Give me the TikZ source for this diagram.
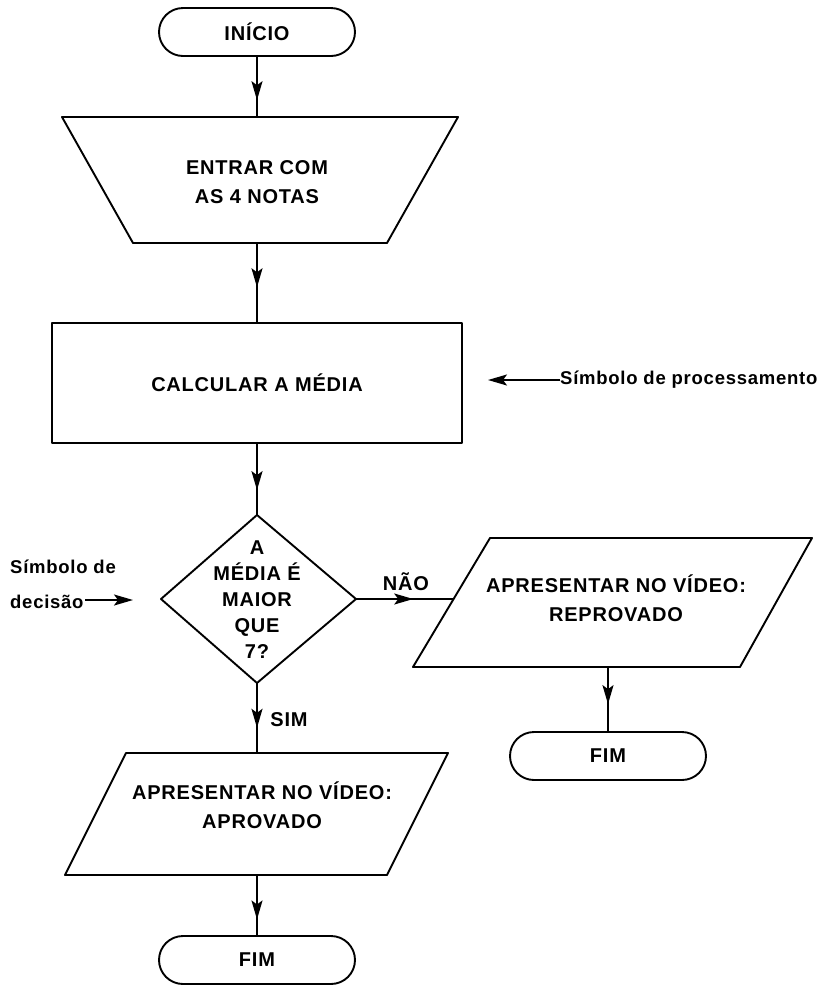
\documentclass[tikz,border=0pt]{standalone}
\usepackage{fontspec}
\setmainfont{Liberation Sans}[LetterSpace=4]
\usetikzlibrary{arrows.meta,decorations.markings}

\tikzset{
  flow/.style={line width=1.9pt, line join=round},
  txt/.style={font=\bfseries\fontsize{20}{29}\selectfont, align=center, inner sep=0pt},
  terminal/.style={flow, draw, rectangle, rounded corners=24pt,
    minimum width=196pt, minimum height=48pt, txt},
  procbox/.style={flow, draw, rectangle, minimum width=410pt,
    minimum height=120pt, txt},
  tipshape/.style={-{Stealth[length=19pt,width=11pt,inset=4pt]}},
  link/.style={flow, postaction={decorate, decoration={markings,
    mark=at position #1 with {\arrow{Stealth[length=19pt,width=11pt,inset=4pt]}}}}},
  note/.style={font=\bfseries\fontsize{18.5}{35}\selectfont, align=left, inner sep=0pt},
}

\begin{document}
\begin{tikzpicture}[x=1pt,y=-1pt]
\useasboundingbox (0,0) rectangle (820,989);

% start terminal
\node[terminal] (inicio) at (257,32) {INÍCIO};

% manual input: wide side on top
\coordinate (inTL) at (62,117);
\coordinate (inTR) at (458,117);
\coordinate (inBR) at (387,243);
\coordinate (inBL) at (133,243);
\draw[flow] (inTL) -- (inTR) -- (inBR) -- (inBL) -- cycle;
\coordinate (inTop) at (257,117);
\coordinate (inBot) at (257,243);
\node[txt] (entrar) at (257,182) {ENTRAR COM\\AS 4 NOTAS};

% processing box
\node[procbox] (calc) at (257,383) {CALCULAR A MÉDIA};

\draw[link=0.72] (inicio.south) -- (inTop);
\draw[link=0.56] (inBot) -- (calc.north);

% note for the processing symbol
\node[note, anchor=west] (procnote) at (560,380) {Símbolo de processamento};
\coordinate (procTip) at (488,380);
\draw[flow, tipshape] (procnote.west) -- (procTip);

% decision
\coordinate (dTop) at (257,515);
\coordinate (dRight) at (356,599);
\coordinate (dBot) at (257,683);
\coordinate (dLeft) at (161,599);
\draw[flow] (dTop) -- (dRight) -- (dBot) -- (dLeft) -- cycle;
\node[txt, font=\bfseries\fontsize{20}{26}\selectfont] (pergunta) at (257,600)
  {A\\MÉDIA É\\MAIOR\\QUE\\7?};
\draw[link=0.65] (calc.south) -- (dTop);

% note for the decision symbol
\node[note, anchor=west] (decnote) at (10,584) {Símbolo de\\decisão};
\coordinate (decFrom) at (85,600);
\coordinate (decTip) at (133,600);
\draw[flow, tipshape] (decFrom) -- (decTip);

% "no" branch
\coordinate (rTL) at (490,538);
\coordinate (rTR) at (812,538);
\coordinate (rBR) at (740,667);
\coordinate (rBL) at (413,667);
\draw[flow] (rTL) -- (rTR) -- (rBR) -- (rBL) -- cycle;
\coordinate (repLeft) at (453,599);
\draw[link=0.59] (dRight) -- (repLeft);
\node[txt] (naoLbl) at (406,582) {NÃO};
\node[txt] (reprov) at (616,598) {APRESENTAR NO VÍDEO:\\REPROVADO};
\coordinate (repBot) at (608,667);
\node[terminal] (fim1) at (608,756) {FIM};
\draw[link=0.58] (repBot) -- (fim1.north);

% "yes" branch
\coordinate (aTL) at (126,753);
\coordinate (aTR) at (448,753);
\coordinate (aBR) at (387,875);
\coordinate (aBL) at (65,875);
\draw[flow] (aTL) -- (aTR) -- (aBR) -- (aBL) -- cycle;
\coordinate (aprTop) at (257,753);
\coordinate (aprBot) at (257,875);
\draw[link=0.64] (dBot) -- (aprTop);
\node[txt] (simLbl) at (289,720) {SIM};
\node[txt] (aprov) at (262,805) {APRESENTAR NO VÍDEO:\\APROVADO};
\node[terminal] (fim2) at (257,960) {FIM};
\draw[link=0.74] (aprBot) -- (fim2.north);

\end{tikzpicture}
\end{document}
